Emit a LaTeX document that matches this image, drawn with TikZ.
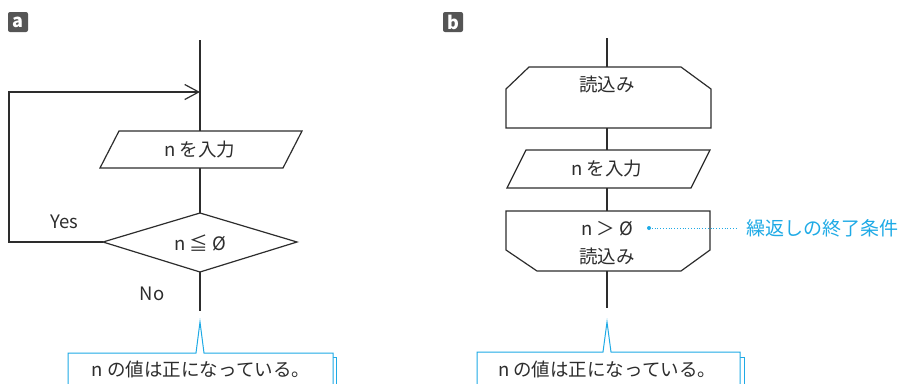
\documentclass[tikz,border=0pt]{standalone}
\usepackage{fontspec}
\setmainfont{Noto Sans CJK JP}
\usetikzlibrary{arrows.meta}
\definecolor{ink}{RGB}{45,45,45}
\definecolor{cblue}{RGB}{30,170,230}
\definecolor{tagbg}{RGB}{85,85,85}
\tikzset{
  x=1pt, y=-1pt,
  flow/.style={draw=ink, line width=1.2pt, fill=white},
  conn/.style={draw=ink, line width=1.2pt},
  lbl/.style={text=ink, font=\fontsize{18.5}{19}\selectfont, inner sep=0pt},
  tagbox/.style={fill=tagbg, rounded corners=2pt, minimum size=20pt, inner sep=0pt, text=white, font=\fontsize{18}{18}\selectfont\bfseries},
  callout/.style={draw=cblue, line width=1pt, fill=white},
  shadowbox/.style={draw=cblue, line width=1pt, fill=white},
  note/.style={text=cblue, font=\fontsize{19}{19}\selectfont, inner sep=0pt},
  openarrow/.style={-{Straight Barb[length=14pt,width=15pt,line width=1.2pt]}},
}
\begin{document}
\begin{tikzpicture}
\clip (0,0) rectangle (899,383);
\fill[white] (0,0) rectangle (899,383);

%% ---------------- panel a ----------------
\node[tagbox] (taga) at (18,22) {a};

\coordinate (atop) at (200,40);
\coordinate (ajoin) at (200,92);
\coordinate (aloopc) at (9,242);

% parallelogram
\draw[flow] (119,131) -- (302,131) -- (283,168) -- (100,168) -- cycle;
\coordinate (ainT) at (200,131);
\coordinate (ainB) at (200,168);
\node[lbl] (ain) at (200,150) {n を入力};

% diamond
\coordinate (dT) at (200,213);
\coordinate (dL) at (103,242);
\coordinate (dR) at (297,242);
\coordinate (dB) at (200,272);
\draw[flow] (dT) -- (dR) -- (dB) -- (dL) -- cycle;
\node[lbl] (dtext) at (200,243) {n ≦ Ø};
\node[lbl] (yes) at (64,222) {Yes};
\node[lbl] (no) at (152,294) {No};
\coordinate (aend) at (200,311);

\draw[conn] (atop) -- (ainT);
\draw[conn] (ainB) -- (dT);
\draw[conn] (dB) -- (aend);
\draw[conn, openarrow] (dL) -- (aloopc) |- (ajoin);

% callout a
\draw[shadowbox] (72,357) rectangle (336,395);
\coordinate (atip) at (200,322);
\draw[callout] (68,353) -- (196,353) -- (atip) -- (204,353) -- (333,353) -- (333,395) -- (68,395) -- cycle;
\node[lbl] (anote) at (201,369) {n の値は正になっている。};

%% ---------------- panel b ----------------
\node[tagbox] (tagb) at (453,22) {b};

\coordinate (btop) at (607,38);
% loop start
\draw[flow] (529,67) -- (681,67) -- (711,89) -- (711,128) -- (506,128) -- (506,89) -- cycle;
\coordinate (lsT) at (607,67);
\coordinate (lsB) at (607,128);
\node[lbl] (ls) at (607,84) {読込み};

% parallelogram
\draw[flow] (526,150) -- (710,150) -- (691,188) -- (507,188) -- cycle;
\coordinate (binT) at (607,150);
\coordinate (binB) at (607,188);
\node[lbl] (bin) at (607,169) {n を入力};

% loop end
\draw[flow] (506,211) -- (710,211) -- (710,250) -- (681,271) -- (537,271) -- (506,250) -- cycle;
\coordinate (leT) at (607,211);
\coordinate (leB) at (607,271);
\node[lbl] (cond) at (607,229) {n ＞ Ø};
\node[lbl] (le) at (607,256) {読込み};
\coordinate (bend) at (607,308);

\draw[conn] (btop) -- (lsT);
\draw[conn] (lsB) -- (binT);
\draw[conn] (binB) -- (leT);
\draw[conn] (leB) -- (bend);

% annotation
\coordinate (dot) at (649,228);
\node[note, anchor=west] (cnote) at (746,228) {繰返しの終了条件};
\fill[cblue] (dot) circle (2pt);
\draw[cblue, dotted, line width=0.8pt] (dot) -- (cnote.west -| 737,0);

% callout b
\draw[shadowbox] (481,357) rectangle (744,395);
\coordinate (btip) at (607,322);
\draw[callout] (477,352) -- (603,352) -- (btip) -- (611,352) -- (740,352) -- (740,395) -- (477,395) -- cycle;
\node[lbl] (bnote) at (607,369) {n の値は正になっている。};
\end{tikzpicture}
\end{document}
